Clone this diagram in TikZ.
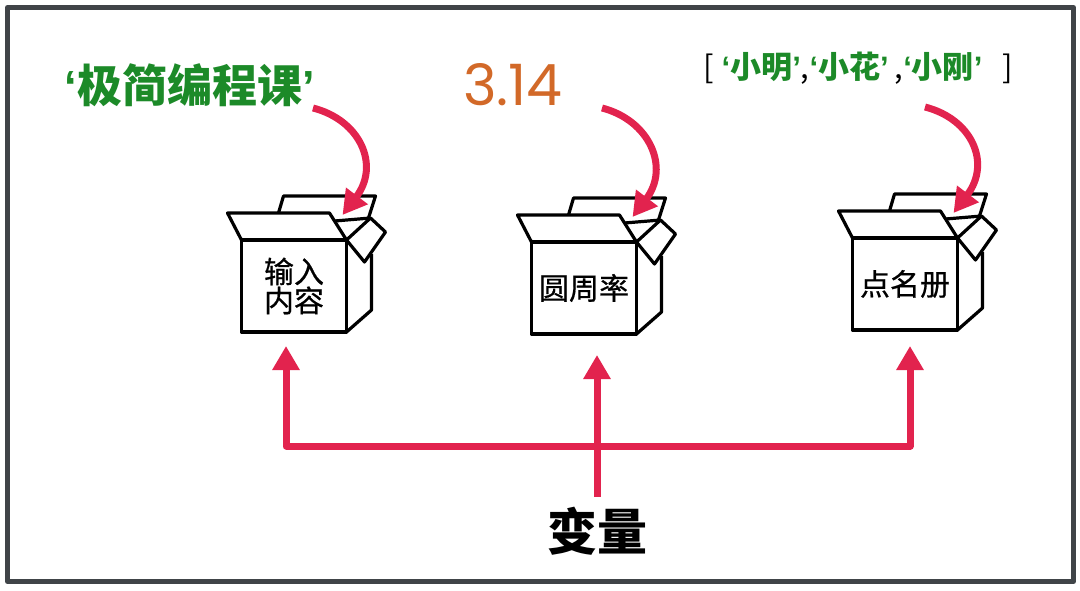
\documentclass[tikz,border=0pt]{standalone}
\usepackage{fontspec}
\usetikzlibrary{arrows.meta}
\newfontfamily\cjk{Noto Sans CJK SC}
\newfontfamily\cjkmid[FakeBold=0.6]{Noto Sans CJK SC}
\newfontfamily\numfont{Poppins}
\newfontfamily\quotefont{Liberation Sans}
\definecolor{arrowred}{RGB}{226, 35, 78}
\definecolor{valgreen}{RGB}{28, 138, 40}
\definecolor{valorange}{RGB}{210, 105, 40}
\definecolor{frame}{RGB}{64, 68, 72}
\newcommand{\quoted}[1]{{\quotefont\bfseries ‘}#1{\quotefont\bfseries ’}}

\tikzset{
  flaps/.pic={
    \draw (0, 0) -- (-14, -27) -- (88, -27) -- (105, 0);
    \draw (37, -27) -- (42, -44) -- (134, -44) -- (127, -22);
    \draw (93, -19) -- (129, -22);
    \draw (105, 0) -- (129, -22) -- (144, -8) -- (123, 22) -- cycle;
    \draw (105, 92) -- (130, 70) -- (130, 14);
  }
}

\begin{document}
\begin{tikzpicture}[x=1pt, y=-1pt, line join=round,
  boxface/.style={draw, line width=3.2pt, minimum width=105pt, minimum height=92pt,
    inner sep=0pt, outer sep=0pt, align=center, font=\cjkmid\fontsize{30}{29}\selectfont},
  redarrow/.style={draw=arrowred, line width=7pt, -{Triangle[width=26pt, length=24pt]}}]

  \useasboundingbox (0, 0) rectangle (1080, 590);
  \draw[frame, line width=5pt] (7.5, 7.5) rectangle (1073.5, 581.5);

  % values
  \node[valgreen, font=\cjk\bfseries\fontsize{45}{45}\selectfont] (val1) at (190, 85) {\quoted{极简编程课}};
  \node[valorange, font=\numfont\fontsize{57}{57}\selectfont] (val2) at (513, 85) {3.14};
  \node[anchor=west, inner sep=0pt, font=\cjk\fontsize{31}{31}\selectfont] (val3) at (703, 68)
    {[\hspace{8pt}{\color{valgreen}\bfseries \quoted{小明}},{\color{valgreen}\bfseries \quoted{小花}}\hspace{6pt},{\color{valgreen}\bfseries \quoted{小刚}}\hspace{20pt}]};

  % boxes
  \node[boxface] (b1) at (294, 286) {输入\\内容};
  \node[boxface] (b2) at (584, 288) {圆周率};
  \node[boxface] (b3) at (905, 284) {点名册};
  \foreach \b in {b1, b2, b3}
    \pic[line width=3.2pt] at (\b.north west) {flaps};

  \coordinate (s1) at (313, 108);
  \coordinate (s2) at (602, 108);
  \coordinate (s3) at (925, 107);
  \foreach \i in {1, 2, 3} {
    \draw[redarrow] (s\i) .. controls +(47, 12) and +(38, -50) .. ([shift={(-4, -25)}]b\i.north east);
  }

  % variable
  \node[font=\cjk\bfseries\fontsize{50}{50}\selectfont, inner sep=0pt, outer sep=10pt] (var) at (597, 531) {变量};
  \coordinate (hub) at (597, 446);
  \coordinate (a1) at (286, 346);
  \coordinate (a2) at (597, 355);
  \coordinate (a3) at (910, 346);
  \draw[redarrow] (hub) -| (a1);
  \draw[redarrow] (hub) -| (a3);
  \draw[redarrow] (var.north) -- (a2);

\end{tikzpicture}
\end{document}
